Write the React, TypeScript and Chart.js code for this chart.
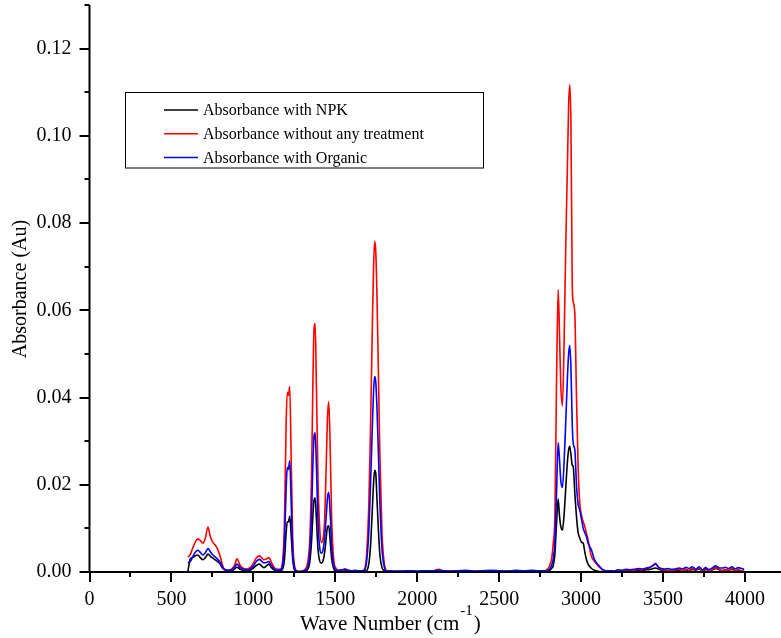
import React, { useEffect, useRef } from "react";
import { Chart, registerables } from "chart.js";
Chart.register(...registerables);

// Wave numbers (cm^-1), shared by the three spectra
const wavenumbers = [
  600, 615, 630, 645, 661, 676, 692, 707, 723, 738, 753, 774, 794, 810, 825, 845, 865, 885, 900, 920,
  941, 960, 980, 1000, 1018, 1038, 1050, 1063, 1080, 1095, 1110, 1130, 1150, 1165,
  1180, 1190, 1200, 1207, 1214, 1222, 1230, 1240, 1252, 1265, 1283, 1300, 1320,
  1335, 1345, 1355, 1362, 1370, 1377, 1385, 1395, 1405, 1415, 1425, 1435, 1445, 1452, 1460, 1468, 1478, 1490, 1505,
  1520, 1540, 1560, 1580, 1600, 1620, 1640, 1660, 1675,
  1690, 1705, 1715, 1725, 1733, 1740, 1747, 1754, 1762, 1772, 1785, 1800, 1815,
  1830, 1860, 1900, 1950, 2000, 2050, 2100, 2130, 2160, 2200, 2250, 2300, 2350, 2400, 2450, 2500, 2550, 2600, 2650, 2700, 2740, 2770,
  2790, 2805, 2820, 2830, 2840, 2850, 2860, 2868, 2876, 2886, 2896, 2906, 2916, 2924, 2931, 2938, 2946, 2952, 2962, 2972,
  2982, 2992, 3003, 3013, 3023, 3033, 3043, 3054, 3064, 3080, 3100, 3115, 3130, 3150,
  3175, 3200, 3225, 3250, 3275, 3300, 3325, 3350, 3375, 3400, 3420, 3440, 3455, 3470, 3490, 3510, 3530, 3550, 3575, 3600,
  3620, 3640, 3660, 3680, 3700, 3720, 3740, 3760, 3780, 3800, 3820, 3840, 3860, 3880, 3900, 3920, 3940, 3960, 3980, 3995,
];

const absNPK = [
  0.0000, 0.0030, 0.0033, 0.0037, 0.0039, 0.0033, 0.0028, 0.0033, 0.0041, 0.0036, 0.0032, 0.0026, 0.0020, 0.0010, 0.0005, 0.0003, 0.0003, 0.0007, 0.0011, 0.0006,
  0.0003, 0.0003, 0.0004, 0.0009, 0.0015, 0.0018, 0.0014, 0.0010, 0.0014, 0.0018, 0.0010, 0.0004, 0.0002, 0.0003,
  0.0008, 0.003, 0.009, 0.0115, 0.0115, 0.0128, 0.009, 0.003, 0.0004, 0.0001, 0.0, 0.0001, 0.0003,
  0.0008, 0.0025, 0.007, 0.012, 0.0165, 0.017, 0.012, 0.005, 0.0025, 0.002, 0.0025, 0.0045, 0.008, 0.0103, 0.0106, 0.0075, 0.003, 0.0008, 0.0002,
  0.0001, 0.0002, 0.0003, 0.0002, 0.0001, 0.0001, 0.0001, 0.0001, 0.0002,
  0.0003, 0.002, 0.006, 0.0135, 0.020, 0.0233, 0.0226, 0.017, 0.0105, 0.004, 0.001, 0.0003, 0.0001,
  0.0001, 0.0, 0.0001, 0.0001, 0.0, 0.0001, 0.0001, 0.0002, 0.0001, 0.0001, 0.0001, 0.0002, 0.0001, 0.0001, 0.0002, 0.0001, 0.0001, 0.0002, 0.0001, 0.0002, 0.0001, 0.0001,
  0.0001, 0.0003, 0.0008, 0.0015, 0.004, 0.011, 0.0167, 0.013, 0.0105, 0.0096, 0.013, 0.019, 0.025, 0.028, 0.0288, 0.027, 0.0245, 0.0242, 0.018, 0.0127,
  0.009, 0.0078, 0.0068, 0.0066, 0.0045, 0.0028, 0.0018, 0.0012, 0.0008, 0.0004, 0.0002, 0.0001, 0.0001, 0.0,
  0.0001, 0.0001, 0.0002, 0.0002, 0.0003, 0.0002, 0.0003, 0.0004, 0.0004, 0.0005, 0.0006, 0.0008, 0.0009, 0.0007, 0.0004, 0.0003, 0.0003, 0.0002, 0.0004, 0.0004,
  0.0003, 0.0005, 0.0003, 0.0006, 0.0004, 0.0007, 0.0002, 0.0006, 0.0003, 0.0005, 0.0008, 0.0006, 0.0003, 0.0005, 0.0004, 0.0006, 0.0003, 0.0004, 0.0002, 0.0001,
];

const absNoTreatment = [
  0.0034, 0.0040, 0.0055, 0.0068, 0.0076, 0.0072, 0.0066, 0.0078, 0.0103, 0.0080, 0.0068, 0.0058, 0.0040, 0.0018, 0.0005, 0.0004, 0.0006, 0.0015, 0.0030, 0.0015,
  0.0008, 0.0007, 0.0010, 0.0020, 0.0032, 0.0037, 0.0033, 0.0028, 0.0030, 0.0033, 0.0022, 0.0009, 0.0006, 0.0007,
  0.003, 0.012, 0.034, 0.0412, 0.0405, 0.0425, 0.028, 0.008, 0.0012, 0.0003, 0.0001, 0.0003, 0.0008,
  0.003, 0.008, 0.022, 0.040, 0.0555, 0.057, 0.042, 0.020, 0.010, 0.0068, 0.0075, 0.012, 0.025, 0.035, 0.039, 0.030, 0.012, 0.003, 0.0008,
  0.0003, 0.0004, 0.0006, 0.0003, 0.0002, 0.0003, 0.0002, 0.0002, 0.0004,
  0.0035, 0.016, 0.033, 0.054, 0.069, 0.0758, 0.0735, 0.064, 0.048, 0.027, 0.009, 0.0017, 0.0003,
  0.0002, 0.0001, 0.0001, 0.0002, 0.0001, 0.0002, 0.0003, 0.0006, 0.0002, 0.0001, 0.0002, 0.0003, 0.0001, 0.0002, 0.0003, 0.0002, 0.0001, 0.0003, 0.0002, 0.0003, 0.0002, 0.0003,
  0.0005, 0.0012, 0.003, 0.0066, 0.0127, 0.043, 0.0647, 0.055, 0.043, 0.0381, 0.052, 0.074, 0.092, 0.107, 0.1117, 0.103, 0.066, 0.062, 0.059, 0.040,
  0.024, 0.0158, 0.013, 0.0115, 0.0104, 0.0088, 0.0073, 0.005, 0.0035, 0.0025, 0.0016, 0.001, 0.0006, 0.0003,
  0.0002, 0.0001, 0.0004, 0.0002, 0.0005, 0.0003, 0.0004, 0.0006, 0.0005, 0.0008, 0.0010, 0.0016, 0.0020, 0.0012, 0.0006, 0.0005, 0.0004, 0.0003, 0.0005, 0.0006,
  0.0003, 0.0007, 0.0004, 0.0008, 0.0005, 0.0009, 0.0003, 0.0008, 0.0002, 0.0006, 0.0010, 0.0007, 0.0003, 0.0006, 0.0004, 0.0008, 0.0003, 0.0005, 0.0003, 0.0002,
];

const absOrganic = [
  0.0021, 0.0024, 0.0035, 0.0045, 0.0050, 0.0045, 0.0039, 0.0044, 0.0054, 0.0046, 0.0039, 0.0032, 0.0024, 0.0012, 0.0006, 0.0004, 0.0005, 0.0010, 0.0018, 0.0010,
  0.0006, 0.0005, 0.0007, 0.0014, 0.0024, 0.0029, 0.0025, 0.0021, 0.0022, 0.0024, 0.0015, 0.0006, 0.0004, 0.0005,
  0.002, 0.007, 0.019, 0.024, 0.0235, 0.0255, 0.017, 0.005, 0.0008, 0.0002, 0.0001, 0.0002, 0.0005,
  0.0015, 0.005, 0.013, 0.023, 0.031, 0.0319, 0.024, 0.011, 0.0055, 0.0043, 0.005, 0.008, 0.013, 0.017, 0.0183, 0.014, 0.006, 0.0015, 0.0005,
  0.0004, 0.0005, 0.0007, 0.0004, 0.0003, 0.0004, 0.0003, 0.0003, 0.0004,
  0.002, 0.0095, 0.020, 0.032, 0.041, 0.0448, 0.0436, 0.038, 0.0285, 0.016, 0.0053, 0.001, 0.0002,
  0.0003, 0.0002, 0.0002, 0.0003, 0.0002, 0.0003, 0.0003, 0.0004, 0.0003, 0.0002, 0.0003, 0.0004, 0.0002, 0.0003, 0.0004, 0.0003, 0.0002, 0.0004, 0.0003, 0.0004, 0.0003, 0.0003,
  0.0003, 0.0006, 0.0015, 0.003, 0.007, 0.018, 0.0297, 0.026, 0.021, 0.0194, 0.025, 0.034, 0.044, 0.050, 0.0519, 0.047, 0.034, 0.0295, 0.028, 0.020,
  0.0155, 0.0142, 0.012, 0.010, 0.009, 0.0081, 0.0066, 0.0057, 0.005, 0.003, 0.0018, 0.0012, 0.0006, 0.0003,
  0.0003, 0.0002, 0.0005, 0.0004, 0.0006, 0.0005, 0.0006, 0.0008, 0.0007, 0.0009, 0.0011, 0.0015, 0.0018, 0.0012, 0.0008, 0.0007, 0.0008, 0.0006, 0.0007, 0.0009,
  0.0007, 0.0011, 0.0008, 0.0012, 0.0006, 0.0012, 0.0005, 0.0010, 0.0006, 0.0009, 0.0014, 0.0010, 0.0009, 0.0011, 0.0008, 0.0012, 0.0007, 0.0010, 0.0008, 0.0006,
];

const seriesLabels = [
  "Absorbance with NPK",
  "Absorbance without any treatment",
  "Absorbance with Organic",
];
const seriesColors = ["#000000", "#ff0000", "#0000ff"];

const xMajorTicks = [0, 500, 1000, 1500, 2000, 2500, 3000, 3500, 4000];
const xMinorTicks = [250, 750, 1250, 1750, 2250, 2750, 3250, 3750];
const yMajorTicks = [0, 0.02, 0.04, 0.06, 0.08, 0.1, 0.12];
const yMinorTicks = [0.01, 0.03, 0.05, 0.07, 0.09, 0.11, 0.13];

const xTitle = "Wave Number (cm";
const xTitleSup = "-1";
const xTitleEnd = ")";
const yTitle = "Absorbance (Au)";

const FONT = "'Liberation Serif', 'Times New Roman', serif";

const axesPlugin = {
  id: "originAxes",
  afterDraw(chart: any) {
    const ctx = chart.ctx;
    const { left, right, top, bottom } = chart.chartArea;
    const xs = chart.scales.x;
    const ys = chart.scales.y;
    ctx.save();
    ctx.strokeStyle = "#000";
    ctx.lineWidth = 2;
    // axis lines
    ctx.beginPath();
    ctx.moveTo(left, top);
    ctx.lineTo(left, bottom);
    ctx.moveTo(left - 1, bottom);
    ctx.lineTo(right, bottom);
    ctx.stroke();
    // ticks
    ctx.beginPath();
    xMajorTicks.forEach((v) => {
      const px = Math.round(xs.getPixelForValue(v));
      ctx.moveTo(px, bottom);
      ctx.lineTo(px, bottom + 10);
    });
    xMinorTicks.forEach((v) => {
      const px = Math.round(xs.getPixelForValue(v));
      ctx.moveTo(px, bottom);
      ctx.lineTo(px, bottom + 5);
    });
    yMajorTicks.forEach((v) => {
      const py = Math.round(ys.getPixelForValue(v));
      ctx.moveTo(left, py);
      ctx.lineTo(left - 10, py);
    });
    yMinorTicks.forEach((v) => {
      const py = Math.round(ys.getPixelForValue(v));
      ctx.moveTo(left, py);
      ctx.lineTo(left - 5, py);
    });
    ctx.stroke();

    // axis titles
    ctx.fillStyle = "#000";
    ctx.textBaseline = "alphabetic";
    ctx.textAlign = "left";
    ctx.font = `21px ${FONT}`;
    let tx = 300;
    const ty = 630;
    ctx.fillText(xTitle, tx, ty);
    tx += ctx.measureText(xTitle).width;
    ctx.font = `15px ${FONT}`;
    ctx.fillText(xTitleSup, tx + 1, ty - 15);
    tx += ctx.measureText(xTitleSup).width + 2;
    ctx.font = `21px ${FONT}`;
    ctx.fillText(xTitleEnd, tx, ty);

    ctx.save();
    ctx.translate(21, 289);
    ctx.rotate(-Math.PI / 2);
    ctx.textAlign = "center";
    ctx.textBaseline = "middle";
    ctx.font = `20px ${FONT}`;
    ctx.fillText(yTitle, 0, 0);
    ctx.restore();

    // legend box
    ctx.lineWidth = 1;
    ctx.strokeStyle = "#000";
    ctx.strokeRect(125.5, 92.5, 358, 75.5);
    ctx.font = `16px ${FONT}`;
    ctx.textAlign = "left";
    ctx.textBaseline = "middle";
    chart.data.datasets.forEach((ds: any, i: number) => {
      const ry = 110 + i * 23.7;
      ctx.strokeStyle = ds.borderColor;
      ctx.lineWidth = 1.5;
      ctx.beginPath();
      ctx.moveTo(164, ry);
      ctx.lineTo(198, ry);
      ctx.stroke();
      ctx.fillStyle = "#000";
      ctx.fillText(ds.label, 203, ry + 1);
    });
    ctx.restore();
  },
};

export default function App() {
  const ref = useRef<HTMLCanvasElement | null>(null);
  useEffect(() => {
    document.body.style.margin = "0";
    const canvas = ref.current;
    if (!canvas) return;
    const series = [absNPK, absNoTreatment, absOrganic];
    const chart = new Chart(canvas, {
      type: "line",
      data: {
        datasets: series.map((vals, i) => ({
          label: seriesLabels[i],
          data: wavenumbers.map((w, j) => ({ x: w, y: vals[j] })),
          borderColor: seriesColors[i],
          backgroundColor: seriesColors[i],
          borderWidth: 1.6,
          pointRadius: 0,
          fill: false,
          cubicInterpolationMode: "monotone",
          order: 3 - i,
        })),
      },
      options: {
        responsive: false,
        animation: false,
        events: [],
        layout: { autoPadding: false, padding: { top: 5, right: 0, left: 0, bottom: 0 } },
        plugins: { legend: { display: false }, tooltip: { enabled: false }, title: { display: false } },
        scales: {
          x: {
            type: "linear",
            min: 0,
            max: 4220,
            afterBuildTicks: (s: any) => {
              s.ticks = xMajorTicks.map((v) => ({ value: v }));
            },
            afterFit: (s: any) => {
              s.height = 66;
              s.paddingLeft = 0;
              s.paddingRight = 0;
            },
            grid: { display: false },
            border: { display: false },
            ticks: {
              color: "#000",
              font: { family: FONT, size: 20 },
              padding: 8,
              maxRotation: 0,
              autoSkip: false,
              callback: (v: any) => String(v),
            },
          },
          y: {
            type: "linear",
            min: 0,
            max: 0.13,
            afterBuildTicks: (s: any) => {
              s.ticks = yMajorTicks.map((v) => ({ value: v }));
            },
            afterFit: (s: any) => {
              s.width = 89.5;
              s.paddingTop = 0;
              s.paddingBottom = 0;
            },
            grid: { display: false },
            border: { display: false },
            ticks: {
              color: "#000",
              font: { family: FONT, size: 20 },
              padding: 10,
              autoSkip: false,
              callback: (v: any) => Number(v).toFixed(2),
            },
          },
        },
      },
      plugins: [axesPlugin],
    } as any);
    return () => chart.destroy();
  }, []);
  return (
    <canvas
      ref={ref}
      width={781}
      height={638}
      style={{ display: "block", width: 781, height: 638 }}
    />
  );
}
